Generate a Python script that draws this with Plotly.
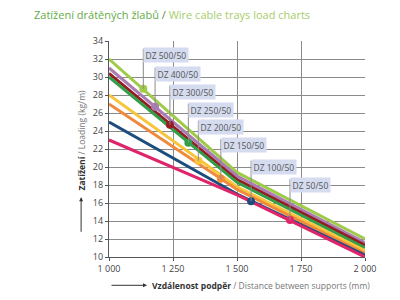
import plotly.graph_objects as go

# ---- data ----
x_pts = [1000, 1500, 2000]
series_names = ["DZ 500/50", "DZ 400/50", "DZ 300/50", "DZ 250/50",
                "DZ 200/50", "DZ 150/50", "DZ 100/50", "DZ 50/50"]
dz500 = [32.0, 19.4, 12.0]
dz400 = [31.0, 19.0, 11.6]
dz300 = [30.4, 18.6, 11.3]
dz250 = [30.0, 18.3, 11.0]
dz200 = [28.0, 17.8, 10.7]
dz150 = [27.0, 17.5, 10.4]
dz100 = [25.0, 17.0, 10.2]
dz50 = [23.0, 16.9, 10.0]
series_values = [dz500, dz400, dz300, dz250, dz200, dz150, dz100, dz50]

marker_x = [1134, 1180, 1238, 1310, 1349, 1437, 1555, 1707]
marker_y = [28.7, 26.7, 24.7, 22.7, 20.7, 18.7, 16.2, 14.1]
label_y = [32.45, 30.35, 28.35, 26.35, 24.45, 22.4, 20.0, 17.95]

x_tickvals = [1000, 1250, 1500, 1750, 2000]
x_ticktext = ["1 000", "1 250", "1 500", "1 750", "2 000"]

colors = ["#9fcb48", "#a97db3", "#951c24", "#339e48",
          "#f8c53a", "#ef8a3d", "#1d4c7e", "#e0246a"]

FONT = "Open Sans"

fig = go.Figure()
for name, vals, col in zip(series_names, series_values, colors):
    fig.add_trace(go.Scatter(x=x_pts, y=vals, mode="lines", name=name,
                             line=dict(color=col, width=3), hoverinfo="skip"))

for name, mx, my, ly, col in zip(series_names, marker_x, marker_y, label_y, colors):
    fig.add_shape(type="line", x0=mx, x1=mx, y0=my, y1=ly + 0.7,
                  line=dict(color="#8a8a8a", width=1), layer="above")
    fig.add_trace(go.Scatter(x=[mx], y=[my], mode="markers",
                             marker=dict(color=col, size=8), showlegend=False,
                             hoverinfo="skip"))
    fig.add_annotation(x=mx, y=ly, xref="x", yref="y", text=name,
                       showarrow=False, xanchor="left", yanchor="middle",
                       font=dict(family=FONT, size=8.5, color="#555555"),
                       bgcolor="#d5dcef", borderpad=1.5)

# title
fig.add_annotation(xref="paper", yref="paper", x=-0.30, y=1.124,
                   xanchor="left", yanchor="middle", showarrow=False,
                   text="<span style='color:#65ab48'>Zatížení drátěných žlabů</span>"
                        "<span style='color:#5a8a4a'> / </span>"
                        "<span style='color:#a7cd69'>Wire cable trays load charts</span>",
                   font=dict(family=FONT, size=11))

# y-axis title
fig.add_annotation(xref="paper", yref="paper", x=-0.109, y=0.54,
                   xanchor="center", yanchor="middle", showarrow=False, textangle=-90,
                   text="<b>Zatížení</b><span style='color:#777777'> / Loading (kg/m)</span>",
                   font=dict(family=FONT, size=8.5, color="#333333"))
fig.add_annotation(xref="paper", yref="paper", x=-0.109, y=(256.7 - 197) / 216,
                   axref="pixel", ayref="pixel", ax=0, ay=36, showarrow=True,
                   arrowhead=2, arrowsize=0.8, arrowwidth=1, arrowcolor="#333333", text="")

# x-axis title
fig.add_annotation(xref="paper", yref="paper", x=(150 - 109) / 256, y=-(285 - 256.7) / 216,
                   xanchor="left", yanchor="middle", showarrow=False,
                   text="<b>Vzdálenost podpěr</b><span style='color:#777777'> / Distance between supports (mm)</span>",
                   font=dict(family=FONT, size=8.5, color="#333333"))
fig.add_annotation(xref="paper", yref="paper", x=(147 - 109) / 256, y=-(285 - 256.7) / 216,
                   axref="pixel", ayref="pixel", ax=-37, ay=0, showarrow=True,
                   arrowhead=2, arrowsize=0.8, arrowwidth=1, arrowcolor="#333333", text="")

fig.update_layout(
    width=392, height=292,
    margin=dict(l=101, r=35, t=33, b=43),
    paper_bgcolor="white", plot_bgcolor="white",
    showlegend=False,
    font=dict(family=FONT, size=8, color="#444444"),
)
fig.update_xaxes(range=[1000, 2000], tickvals=x_tickvals, ticktext=x_ticktext,
                 showgrid=True, gridcolor="#8a8a8a", gridwidth=0.8,
                 showline=True, linecolor="#555555", linewidth=1.2, mirror=False,
                 ticks="outside", ticklen=3, tickcolor="#555555", zeroline=False,
                 tickfont=dict(family=FONT, size=9, color="#444444"))
fig.update_yaxes(range=[10, 34], dtick=2, tick0=10,
                 showgrid=True, gridcolor="#8a8a8a", gridwidth=0.8,
                 showline=True, linecolor="#555555", linewidth=1.2,
                 ticks="outside", ticklen=3, tickcolor="#555555", zeroline=False,
                 tickfont=dict(family=FONT, size=9, color="#444444"))

fig.write_html("out.html")
